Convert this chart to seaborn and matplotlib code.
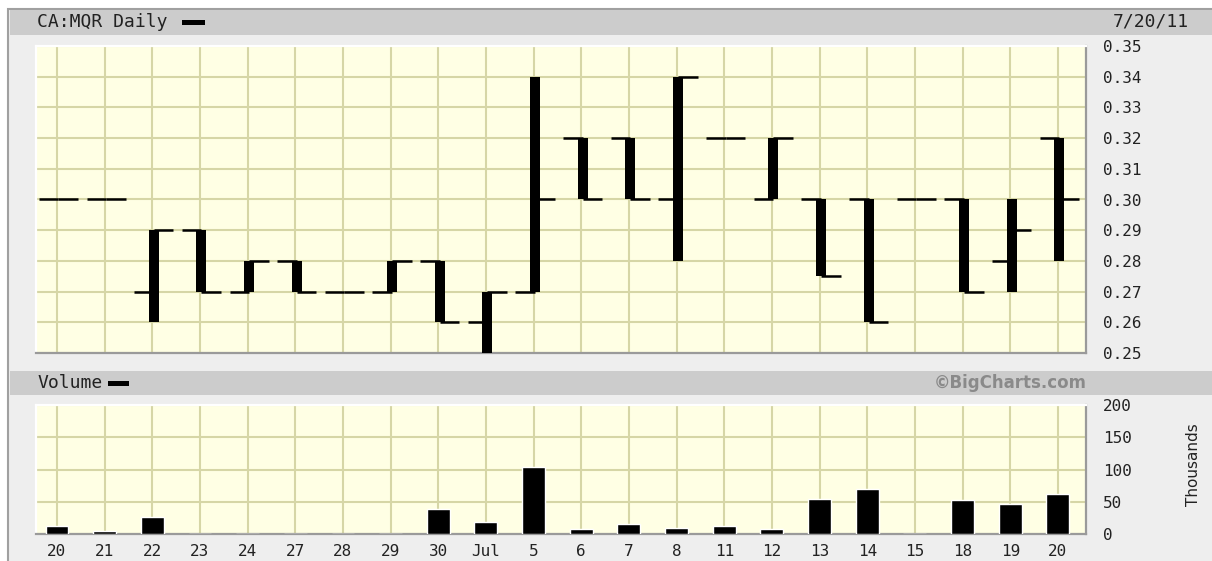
import numpy as np
import pandas as pd

import matplotlib
matplotlib.use("Agg")
import matplotlib.pyplot as plt
from matplotlib.patches import Rectangle
import seaborn as sns


# =====================================================
# DATA
# =====================================================

dates = ["06-20", "06-21", "06-22", "06-23", "06-24", "06-27", "06-28",
         "06-29", "06-30", "07-04", "07-05", "07-06", "07-07", "07-08",
         "07-11", "07-12", "07-13", "07-14", "07-15", "07-18", "07-19",
         "07-20"]

day_labels = ["20", "21", "22", "23", "24", "27", "28", "29", "30", "Jul",
              "5", "6", "7", "8", "11", "12", "13", "14", "15", "18", "19",
              "20"]

open_px = [0.30, 0.30, 0.27, 0.29, 0.27, 0.28, 0.27, 0.27, 0.28, 0.26, 0.27,
           0.32, 0.32, 0.30, 0.32, 0.30, 0.30, 0.30, 0.30, 0.30, 0.28, 0.32]
high_px = [0.30, 0.30, 0.29, 0.29, 0.28, 0.28, 0.27, 0.28, 0.28, 0.27, 0.34,
           0.32, 0.32, 0.34, 0.32, 0.32, 0.30, 0.30, 0.30, 0.30, 0.30, 0.32]
low_px = [0.30, 0.30, 0.26, 0.27, 0.27, 0.27, 0.27, 0.27, 0.26, 0.25, 0.27,
          0.30, 0.30, 0.28, 0.32, 0.30, 0.275, 0.26, 0.30, 0.27, 0.27, 0.28]
close_px = [0.30, 0.30, 0.29, 0.27, 0.28, 0.27, 0.27, 0.28, 0.26, 0.27, 0.30,
            0.30, 0.30, 0.34, 0.32, 0.32, 0.275, 0.26, 0.30, 0.27, 0.29, 0.30]

# volume in thousands
volume = [13, 5, 26, 0, 0, 0, 0, 0, 39, 18, 104, 8, 15, 10, 13, 8, 55, 70, 0,
          52, 47, 62]

price_ticks = [0.25, 0.26, 0.27, 0.28, 0.29, 0.30, 0.31, 0.32, 0.33, 0.34, 0.35]
volume_ticks = [0, 50, 100, 150, 200]


# =====================================================
# STYLE
# =====================================================

W, H = 1212, 561

PANEL_BG = "#eeeeee"
HEADER_BG = "#cccccc"
PLOT_BG = "#ffffe4"
GRID = "#d6d6a6"
TEXT = "#222222"

sns.set_theme(style="white")
plt.rcParams["font.family"] = ["DejaVu Sans Mono", "DejaVu Sans"]


def fx(px):
    return px / W


def fy(py):
    return 1 - py / H


def add_rect(fig, left, top, right, bottom, color, **kw):
    fig.patches.append(Rectangle((fx(left), fy(bottom)), (right - left) / W,
                                 (bottom - top) / H,
                                 transform=fig.transFigure,
                                 facecolor=color, **kw))


def style_axes(ax):
    ax.set_facecolor(PLOT_BG)
    ax.grid(True, color=GRID, linewidth=1.5)
    ax.set_axisbelow(True)
    ax.spines["top"].set_color("white")
    ax.spines["left"].set_color("white")
    ax.spines["bottom"].set_color("#9a9a9a")
    ax.spines["right"].set_color("#9a9a9a")
    for s in ax.spines.values():
        s.set_linewidth(1.6)
    ax.yaxis.tick_right()
    ax.tick_params(axis="both", length=0, labelsize=11.5, colors=TEXT)
    ax.tick_params(axis="y", pad=12)
    ax.set_xlim(-0.44, len(dates) - 1 + 0.59)


# =====================================================
# FIGURE + FRAME
# =====================================================

fig = plt.figure(figsize=(W / 100, H / 100), dpi=100, facecolor="white")

# outer panel with grey frame on top / left
add_rect(fig, 8, 9, W + 5, H + 5, PANEL_BG, edgecolor="#a0a0a0",
         linewidth=1.5, zorder=-10)

# header strips
add_rect(fig, 10, 10, W + 5, 35, HEADER_BG, edgecolor="none", zorder=-9)
add_rect(fig, 10, 371, W + 5, 395, HEADER_BG, edgecolor="none", zorder=-9)

fig.text(fx(37), fy(22), "CA:MQR Daily", fontsize=13, color=TEXT,
         va="center", ha="left")
add_rect(fig, 182, 19.5, 205, 24.5, "black", edgecolor="none")
fig.text(fx(1189), fy(22), "7/20/11", fontsize=13, color=TEXT,
         va="center", ha="right")

fig.text(fx(37), fy(383), "Volume", fontsize=13, color=TEXT,
         va="center", ha="left")
add_rect(fig, 108, 380.5, 129, 385.5, "black", edgecolor="none")
fig.text(fx(1087), fy(383), "\u00a9BigCharts.com", fontsize=12,
         color="#8a8a8a", fontweight="bold", family="DejaVu Sans",
         va="center", ha="right")

fig.text(fx(1194), fy(465), "Thousands", fontsize=11, color=TEXT,
         rotation=90, va="center", ha="center", family="DejaVu Sans")


# =====================================================
# PRICE PANEL (OHLC BARS)
# =====================================================

ax_p = fig.add_axes([fx(36), fy(353), 1050 / W, (353 - 46) / H])
style_axes(ax_p)

x = np.arange(len(dates)) + 0.03
half_w = 0.1
tick_len = 0.31

ax_p.vlines(x, low_px, high_px, color="black", linewidth=7.2,
            capstyle="butt", zorder=3)
ax_p.hlines(open_px, x - half_w - tick_len, x, color="black",
            linewidth=1.8, zorder=3)
ax_p.hlines(close_px, x, x + half_w + tick_len, color="black",
            linewidth=1.8, zorder=3)

ax_p.set_ylim(0.25, 0.35)
ax_p.set_yticks(price_ticks)
ax_p.set_yticklabels([f"{t:.2f}" for t in price_ticks])
ax_p.set_xticks(np.arange(len(dates)))
ax_p.set_xticklabels([])
ax_p.set_xlabel("")
ax_p.set_ylabel("")


# =====================================================
# VOLUME PANEL
# =====================================================

vol_df = pd.DataFrame({"date": dates, "volume": volume})

ax_v = fig.add_axes([fx(36), fy(534), 1050 / W, (534 - 405) / H])

sns.barplot(data=vol_df, x="date", y="volume", order=dates, color="black",
            saturation=1, width=0.48, ax=ax_v, zorder=3)

style_axes(ax_v)
ax_v.set_ylim(0, 200)
ax_v.set_yticks(volume_ticks)
ax_v.set_xticks(np.arange(len(dates)))
ax_v.set_xticklabels(day_labels)
ax_v.tick_params(axis="x", pad=7)
ax_v.set_xlabel("")
ax_v.set_ylabel("")


fig.savefig("out.png", dpi=100, facecolor=fig.get_facecolor())
